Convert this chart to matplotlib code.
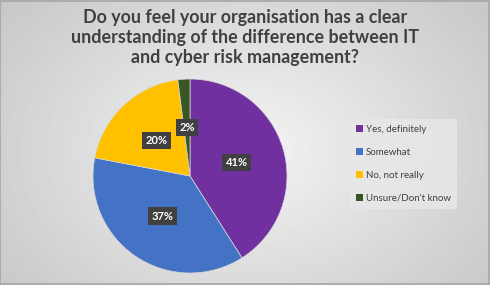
import numpy as np
import matplotlib.pyplot as plt
from matplotlib.patches import Patch

# data
title = "Do you feel your organisation has a clear\nunderstanding of the difference between IT\nand cyber risk management?"
labels = ["Yes, definitely", "Somewhat", "No, not really", "Unsure/Don't know"]
values = [41, 37, 20, 2]
colors = ["#7030a0", "#4472c4", "#ffc000", "#375623"]

fig = plt.figure(figsize=(4.9, 2.85), dpi=100)

# radial grey gradient background
bg = fig.add_axes([0, 0, 1, 1])
yy, xx = np.mgrid[0:285, 0:490]
d = np.sqrt(((xx - 245) / 300.0) ** 2 + ((yy - 150) / 220.0) ** 2)
shade = 0.96 - 0.17 * np.clip(d, 0, 1.2)
bg.imshow(shade, cmap="gray", vmin=0, vmax=1, aspect="auto", extent=[0, 1, 0, 1])
bg.set_xlim(0, 1)
bg.set_ylim(0, 1)
bg.axis("off")
bg.add_patch(plt.Rectangle((0.001, 0.002), 0.997, 0.995, fill=False,
                           edgecolor="#a6a6a6", linewidth=1.2, transform=bg.transAxes))

fig.text(0.5, 0.968, title, ha="center", va="top", fontsize=12.9,
         fontweight="bold", color="#404040", family="Lato", linespacing=1.22)

# pie
ax = fig.add_axes([(190 - 97) / 490, (285 - 176 - 97) / 285, 194 / 490, 194 / 285])
wedges, texts, autotexts = ax.pie(values, colors=colors, startangle=90, counterclock=False,
                                  autopct="%d%%", pctdistance=0.5,
                                  wedgeprops=dict(linewidth=0.5, edgecolor="#d9d9d9"))
for t in autotexts:
    t.set_color("white")
    t.set_fontweight("bold")
    t.set_fontsize(8)
    t.set_family("Lato")
    t.set_bbox(dict(boxstyle="square,pad=0.3", facecolor="#404040", edgecolor="none"))
ax.set_xlim(-1, 1)
ax.set_ylim(-1, 1)
ax.set_aspect("equal")

handles = [Patch(facecolor=c, edgecolor="none") for c in colors]
leg = fig.legend(handles, labels, loc="upper left", bbox_to_anchor=(345 / 490, 1 - 114 / 285),
                 frameon=True, handlelength=0.7, handleheight=0.7,
                 handletextpad=0.3, labelspacing=1.42, borderpad=0.65,
                 prop={"family": "Lato", "size": 7})
leg.get_frame().set_facecolor("#e8e8e8")
leg.get_frame().set_edgecolor("none")
leg.get_frame().set_boxstyle("square", pad=0)
for t in leg.get_texts():
    t.set_color("#404040")

fig.savefig("out.png", dpi=100)
